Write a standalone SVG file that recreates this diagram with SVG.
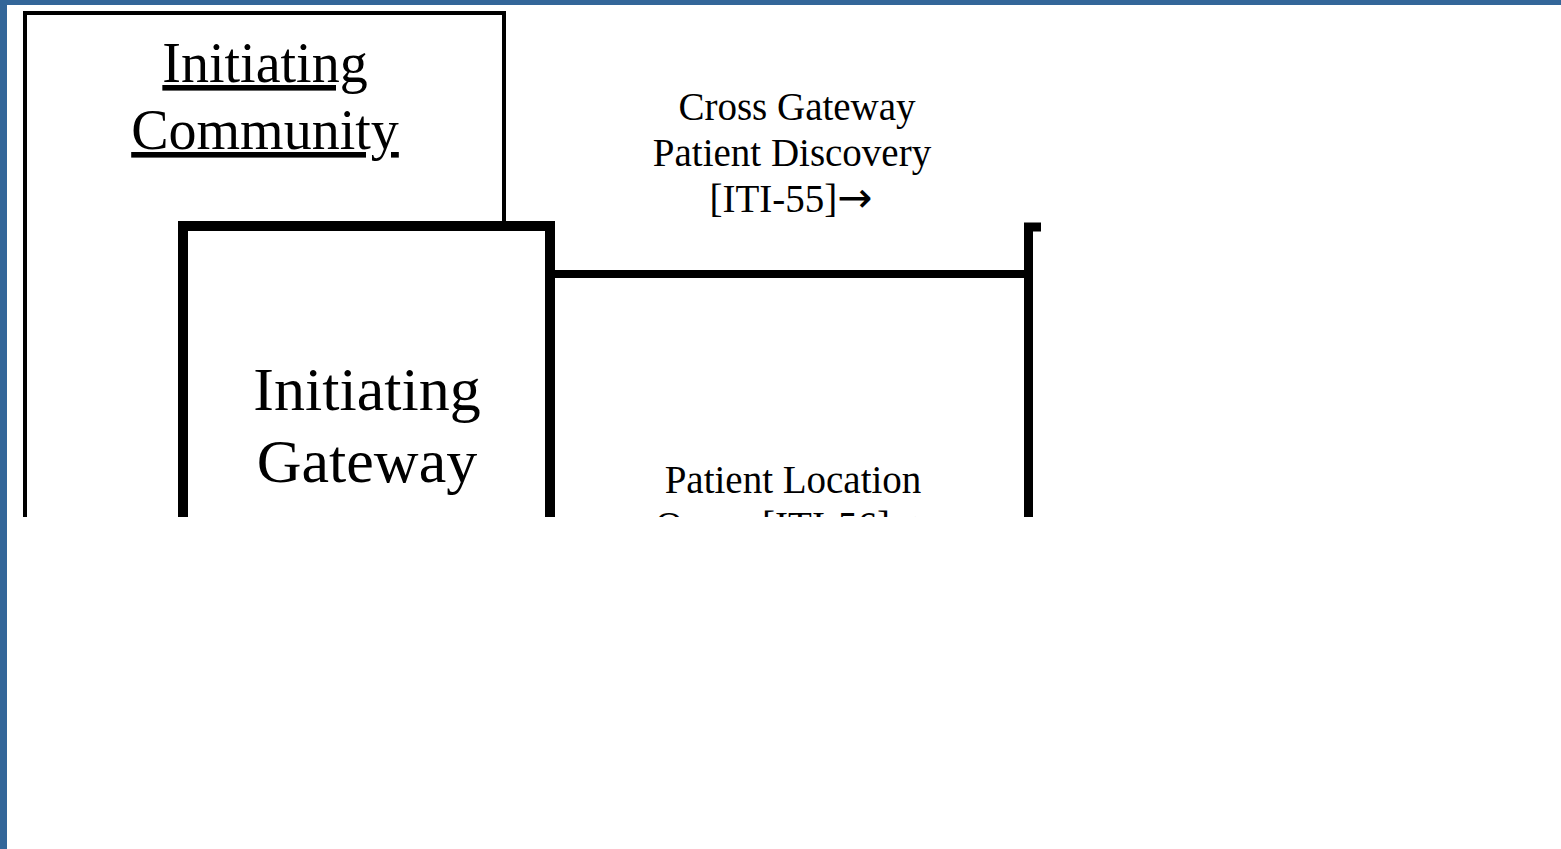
<svg xmlns="http://www.w3.org/2000/svg" width="1561" height="849" viewBox="0 0 1561 849">
<style>
.serif{font-family:"Liberation Serif","Times New Roman",serif;fill:#000;text-anchor:middle}
.lbl{font-size:39px}
.arr{font-family:"DejaVu Sans",sans-serif;font-size:42px}
.box{fill:#fff;stroke:#000}
</style>
<defs>
<clipPath id="clip"><rect x="0" y="0" width="1041" height="517"/></clipPath>
</defs>
<rect x="0" y="0" width="1561" height="849" fill="#fff"/>
<g id="border" fill="#336699">
<rect x="0" y="0" width="1561" height="5"/>
<rect x="0" y="0" width="7" height="849"/>
</g>
<g clip-path="url(#clip)">
<g id="initiating-community">
<rect class="box" x="25" y="13" width="479" height="700" stroke-width="4"/>
<text class="serif" x="265" y="82" font-size="56" text-decoration="underline">Initiating</text>
<text class="serif" x="265" y="149" font-size="56" text-decoration="underline">Community</text>
</g>
<g id="initiating-gateway">
<rect class="box" x="183" y="226" width="367" height="600" stroke-width="10"/>
<text class="serif" x="367" y="410" font-size="62">Initiating</text>
<text class="serif" x="367" y="482" font-size="62">Gateway</text>
</g>
<g id="responding-gateway">
<rect class="box" x="1028.5" y="227" width="400" height="600" stroke-width="9"/>
</g>
<g id="connectors">
<line x1="555" y1="274" x2="1024" y2="274" stroke="#000" stroke-width="8"/>
<text class="serif lbl" x="797" y="120">Cross Gateway</text>
<text class="serif lbl" x="792" y="166">Patient Discovery</text>
<text class="serif lbl" x="791" y="212">[ITI-55]<tspan class="arr">→</tspan></text>
<text class="serif lbl" x="793" y="493">Patient Location</text>
<text class="serif lbl" x="790" y="539">Query [ITI-56]<tspan class="arr">→</tspan></text>
</g>
</g>
</svg>
